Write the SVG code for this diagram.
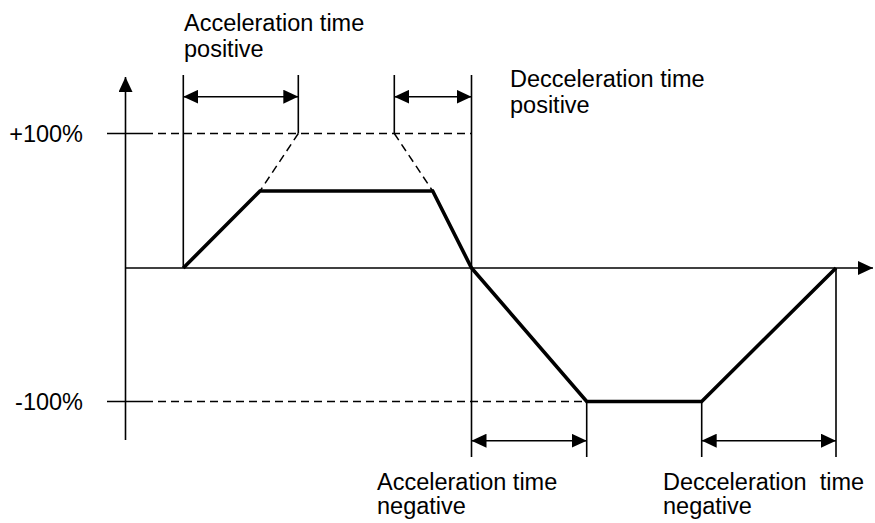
<svg xmlns="http://www.w3.org/2000/svg" width="875" height="523" viewBox="0 0 875 523">
<defs>
<marker id="ah" viewBox="0 0 15 14" refX="15" refY="7" markerWidth="15" markerHeight="14" markerUnits="userSpaceOnUse" orient="auto-start-reverse">
<path d="M0,0 L15,7 L0,14 Z" fill="#000"/>
</marker>
</defs>
<style>
.thin{stroke:#000;stroke-width:1.6;fill:none}
.dash{stroke:#000;stroke-width:1.5;fill:none;stroke-dasharray:8 5}
.thick{stroke:#000;stroke-width:3.6;fill:none;stroke-linejoin:miter}
.lbl{font-family:"Liberation Sans",Arial,sans-serif;font-size:23.5px;fill:#000}
</style>
<rect width="875" height="523" fill="#fff"/>
<g id="axes">
<line class="thin" x1="125.5" y1="440" x2="125.5" y2="77" marker-end="url(#ah)"/>
<line class="thin" x1="125" y1="268" x2="873" y2="268" marker-end="url(#ah)"/>
<line class="thin" x1="107" y1="133.5" x2="145" y2="133.5"/>
<line class="thin" x1="107" y1="401.5" x2="145" y2="401.5"/>
</g>
<g id="reference-lines">
<line class="dash" x1="145" y1="133.5" x2="471.5" y2="133.5"/>
<line class="dash" x1="145" y1="401.5" x2="586.7" y2="401.5"/>
<line class="dash" x1="298.3" y1="133.5" x2="260" y2="191"/>
<line class="dash" x1="394.3" y1="133.5" x2="432.7" y2="191"/>
</g>
<g id="extension-lines">
<line class="thin" x1="183.3" y1="75" x2="183.3" y2="268"/>
<line class="thin" x1="298.3" y1="75" x2="298.3" y2="133.5"/>
<line class="thin" x1="394.3" y1="75" x2="394.3" y2="133.5"/>
<line class="thin" x1="471.5" y1="75" x2="471.5" y2="457"/>
<line class="thin" x1="586.7" y1="401.5" x2="586.7" y2="457"/>
<line class="thin" x1="701.7" y1="401.5" x2="701.7" y2="457"/>
<line class="thin" x1="836" y1="268" x2="836" y2="457"/>
</g>
<g id="dimension-arrows">
<line class="thin" x1="183.3" y1="96.7" x2="298.3" y2="96.7" marker-start="url(#ah)" marker-end="url(#ah)"/>
<line class="thin" x1="394.3" y1="96.7" x2="471.5" y2="96.7" marker-start="url(#ah)" marker-end="url(#ah)"/>
<line class="thin" x1="471.5" y1="440.7" x2="586.7" y2="440.7" marker-start="url(#ah)" marker-end="url(#ah)"/>
<line class="thin" x1="701.7" y1="440.7" x2="836" y2="440.7" marker-start="url(#ah)" marker-end="url(#ah)"/>
</g>
<g id="profile">
<polyline class="thick" points="183.3,268 260,191 432.7,191 471.5,268 586.7,401.5 701.7,401.5 836,268"/>
</g>
<g id="labels">
<text class="lbl" x="83" y="141.5" text-anchor="end">+100%</text>
<text class="lbl" x="83" y="409.5" text-anchor="end">-100%</text>
<text class="lbl" x="184" y="31">Acceleration time</text>
<text class="lbl" x="184" y="57">positive</text>
<text class="lbl" x="510" y="87">Decceleration time</text>
<text class="lbl" x="510" y="113">positive</text>
<text class="lbl" x="377" y="490">Acceleration time</text>
<text class="lbl" x="377" y="514">negative</text>
<text class="lbl" x="663" y="490" xml:space="preserve">Decceleration  time</text>
<text class="lbl" x="663" y="514">negative</text>
</g>
</svg>
